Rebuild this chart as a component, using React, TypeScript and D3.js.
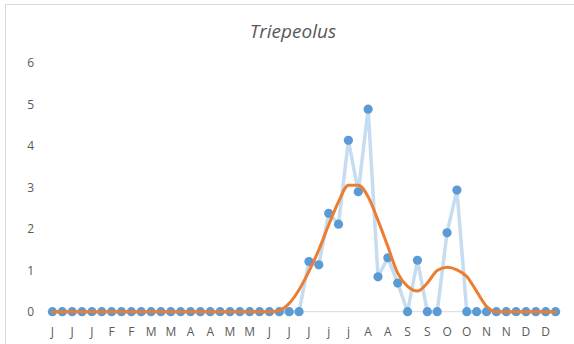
import React from "react";
import * as d3 from "d3";

const title = "Triepeolus";

// 52 weekly categories; only every other label is displayed
const categories = [
  "J", "J", "J", "J", "J", "F", "F", "F", "F", "M", "M", "M", "M",
  "A", "A", "A", "A", "M", "M", "M", "M", "J", "J", "J", "J", "J",
  "J", "j", "j", "j", "j", "A", "A", "A", "A", "S", "S", "S", "S",
  "O", "O", "O", "O", "N", "N", "N", "N", "D", "D", "D", "D", "D",
];

const observed = [
  0, 0, 0, 0, 0, 0, 0, 0, 0, 0, 0, 0, 0,
  0, 0, 0, 0, 0, 0, 0, 0, 0, 0, 0, 0, 0,
  1.21, 1.13, 2.37, 2.11, 4.13, 2.89, 4.88, 0.84, 1.3, 0.69, 0, 1.24, 0,
  0, 1.9, 2.93, 0, 0, 0, 0, 0, 0, 0, 0, 0, 0,
];

const smoothed = [
  0, 0, 0, 0, 0, 0, 0, 0, 0, 0, 0, 0, 0,
  0, 0, 0, 0, 0, 0, 0, 0, 0, 0, 0.03, 0.2, 0.53,
  0.97, 1.49, 2.09, 2.65, 3.05, 3.05, 2.77, 2.2, 1.57, 0.93, 0.61, 0.5, 0.69,
  0.99, 1.07, 1.01, 0.85, 0.49, 0.13, 0, 0, 0, 0, 0, 0, 0,
];

const yTicks = [0, 1, 2, 3, 4, 5, 6];

const W = 574;
const H = 344;
const plotLeft = 47.5;
const plotRight = 560.5;
const plotTop = 62.7;
const plotBottom = 311.7;
const textColor = "#595959";
const font = "'Open Sans', 'Liberation Sans', sans-serif";

export default function App() {
  const x = d3
    .scaleBand<number>()
    .domain(categories.map((_, i) => i))
    .range([plotLeft, plotRight]);
  const cx = (i: number) => (x(i) as number) + x.bandwidth() / 2;
  const y = d3.scaleLinear().domain([0, 6]).range([plotBottom, plotTop]);

  const blueLine = d3
    .line<number>()
    .x((_, i) => cx(i))
    .y((d) => y(d));
  const orangeLine = d3
    .line<number>()
    .x((_, i) => cx(i))
    .y((d) => y(d))
    .curve(d3.curveMonotoneX);

  return (
    <svg
      width={W}
      height={H}
      style={{ position: "absolute", left: 0, top: 0, background: "#fff" }}
    >
      <rect x={5.5} y={4.5} width={W + 10} height={H + 10} fill="#fff" stroke="#d9d9d9" />
      <text
        x={293}
        y={38}
        textAnchor="middle"
        fontFamily={font}
        fontStyle="italic"
        fontSize={19}
        fill={textColor}
      >
        {title}
      </text>
      {yTicks.map((t) => (
        <text
          key={t}
          x={34}
          y={y(t) + 4.5}
          textAnchor="end"
          fontFamily={font}
          fontSize={12}
          fill={textColor}
        >
          {t}
        </text>
      ))}
      <line
        x1={plotLeft}
        x2={plotRight}
        y1={y(0)}
        y2={y(0)}
        stroke="#d9d9d9"
        strokeWidth={1}
      />
      {categories.map((c, i) =>
        i % 2 === 0 ? (
          <text
            key={i}
            x={cx(i)}
            y={336}
            textAnchor="middle"
            fontFamily={font}
            fontSize={12}
            fill={textColor}
          >
            {c}
          </text>
        ) : null
      )}
      <path
        d={blueLine(observed) || ""}
        fill="none"
        stroke="#c6dcf0"
        strokeWidth={3.5}
        strokeLinejoin="round"
      />
      {observed.map((v, i) => (
        <circle key={i} cx={cx(i)} cy={y(v)} r={4.6} fill="#5b9bd5" />
      ))}
      <path
        d={orangeLine(smoothed) || ""}
        fill="none"
        stroke="#ed7d31"
        strokeWidth={3}
        strokeLinejoin="round"
        strokeLinecap="round"
      />
    </svg>
  );
}
